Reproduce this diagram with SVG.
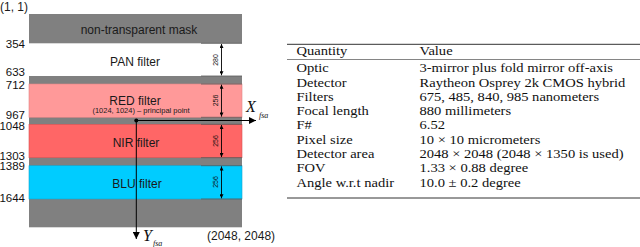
<svg xmlns="http://www.w3.org/2000/svg" width="640" height="247" viewBox="0 0 640 247">
<style>
.lbl{font-family:"Liberation Sans",Arial,sans-serif;font-size:12px;fill:#1a1a1a}
.band{font-family:"Liberation Sans",Arial,sans-serif;font-size:12px;fill:#1a1a1a;text-anchor:middle}
.num{font-family:"Liberation Sans",Arial,sans-serif;font-size:11.5px;fill:#111;text-anchor:end}
.dim{font-family:"Liberation Sans",Arial,sans-serif;font-size:7px;fill:#111;text-anchor:middle}
.ext{stroke:#5a5a5a;stroke-width:0.8}
.tab{font-family:"Liberation Serif","Times New Roman",serif;font-size:12.5px;fill:#111}
.ax{font-family:"Liberation Serif","Times New Roman",serif;font-style:italic;fill:#111}
.rule{stroke:#333}
</style>
<defs>
<marker id="ah" viewBox="0 0 10 10" refX="10" refY="5" markerWidth="9" markerHeight="7" markerUnits="userSpaceOnUse" orient="auto-start-reverse">
<path d="M0,0 L10,5 L0,10 z" fill="#000"/>
</marker>
<marker id="dh" viewBox="0 0 10 10" refX="10" refY="5" markerWidth="5" markerHeight="4" markerUnits="userSpaceOnUse" orient="auto-start-reverse">
<path d="M0,0 L10,5 L0,10 z" fill="#000"/>
</marker>
</defs>

<g id="mask">
<rect x="29" y="14" width="213" height="213.3" fill="#808080"/>
<text class="band" x="139" y="33.5" fill="#222">non-transparent mask</text>
</g>
<g id="pan">
<rect x="29" y="43.3" width="213" height="32.7" fill="#ffffff"/>
<text class="band" x="135" y="65.5">PAN filter</text>
</g>
<g id="red">
<rect x="29" y="84" width="213" height="33.3" fill="#ff9999" stroke="#e08585" stroke-width="0.6"/>
<text class="band" x="135" y="104.5">RED filter</text>
<text class="band" x="141" y="113" style="font-size:7.5px">(1024, 1024) – principal point</text>
</g>
<g id="nir">
<rect x="29" y="124.3" width="213" height="33.4" fill="#ff6666" stroke="#d85555" stroke-width="0.6"/>
<text class="band" x="136" y="146.5">NIR filter</text>
</g>
<g id="blu">
<rect x="29" y="165.7" width="213" height="33.3" fill="#00ccff" stroke="#12a6cf" stroke-width="0.6"/>
<text class="band" x="137" y="187.5">BLU filter</text>
</g>

<g id="ext-lines">
<line class="ext" x1="201" y1="43.3" x2="242" y2="43.3"/>
<line class="ext" x1="201" y1="76" x2="242" y2="76"/>
<line class="ext" x1="201" y1="84" x2="242" y2="84"/>
<line class="ext" x1="201" y1="117.3" x2="242" y2="117.3"/>
<line class="ext" x1="201" y1="124.3" x2="242" y2="124.3"/>
<line class="ext" x1="201" y1="157.7" x2="242" y2="157.7"/>
<line class="ext" x1="201" y1="165.7" x2="242" y2="165.7"/>
<line class="ext" x1="201" y1="199" x2="242" y2="199"/>
</g>

<g id="row-labels">
<text class="lbl" x="0" y="11">(1, 1)</text>
<text class="num" x="25" y="47.5">354</text>
<text class="num" x="25" y="76">633</text>
<text class="num" x="25" y="89">712</text>
<text class="num" x="25" y="119">967</text>
<text class="num" x="25" y="129.5">1048</text>
<text class="num" x="25" y="159.5">1303</text>
<text class="num" x="25" y="170">1389</text>
<text class="num" x="25" y="201.5">1644</text>
<text class="lbl" x="207" y="240">(2048, 2048)</text>
</g>

<g id="connectors" fill="none" stroke="#000">
<line x1="221.5" y1="44" x2="221.5" y2="75.3" stroke-width="0.9" marker-start="url(#dh)" marker-end="url(#dh)"/>
<line x1="221.5" y1="84.7" x2="221.5" y2="116.6" stroke-width="0.9" marker-start="url(#dh)" marker-end="url(#dh)"/>
<line x1="221.5" y1="125" x2="221.5" y2="157" stroke-width="0.9" marker-start="url(#dh)" marker-end="url(#dh)"/>
<line x1="221.5" y1="166.4" x2="221.5" y2="198.3" stroke-width="0.9" marker-start="url(#dh)" marker-end="url(#dh)"/>
<line x1="136.3" y1="120.5" x2="256" y2="120.5" stroke-width="1" marker-end="url(#ah)"/>
<line x1="136.3" y1="120.5" x2="136.3" y2="239" stroke-width="1" marker-end="url(#ah)"/>
<circle cx="136.3" cy="120.5" r="2" fill="#000" stroke="none"/>
</g>

<g id="dim-labels">
<text class="dim" transform="translate(217.5,60) rotate(-90)">280</text>
<text class="dim" transform="translate(217.5,100.5) rotate(-90)">256</text>
<text class="dim" transform="translate(217.5,141) rotate(-90)">256</text>
<text class="dim" transform="translate(217.5,182) rotate(-90)">256</text>
</g>

<g id="axis-labels">
<text class="ax" x="246" y="112" style="font-size:16px">X</text>
<text class="ax" x="259" y="117.5" style="font-size:8px">fsa</text>
<text class="ax" x="143" y="241" style="font-size:16px">Y</text>
<text class="ax" x="153" y="246" style="font-size:8px">fsa</text>
</g>

<g id="table">
<line class="rule" x1="287" y1="44.3" x2="640" y2="44.3" stroke-width="1"/>
<line class="rule" x1="287" y1="59.5" x2="640" y2="59.5" stroke-width="0.6"/>
<line class="rule" x1="287" y1="198" x2="640" y2="198" stroke-width="1"/>
<g class="tab" transform="translate(296.5,0) scale(1.164,1)">
<text x="0" y="55.5">Quantity</text>
<text x="105.67" y="55.5">Value</text>
<text x="0" y="72.3">Optic</text>
<text x="105.67" y="72.3">3-mirror plus fold mirror off-axis</text>
<text x="0" y="86.6">Detector</text>
<text x="105.67" y="86.6">Raytheon Osprey 2k CMOS hybrid</text>
<text x="0" y="100.9">Filters</text>
<text x="105.67" y="100.9">675, 485, 840, 985 nanometers</text>
<text x="0" y="115.2">Focal length</text>
<text x="105.67" y="115.2">880 millimeters</text>
<text x="0" y="129.5">F#</text>
<text x="105.67" y="129.5">6.52</text>
<text x="0" y="143.8">Pixel size</text>
<text x="105.67" y="143.8">10 × 10 micrometers</text>
<text x="0" y="158.1">Detector area</text>
<text x="105.67" y="158.1">2048 × 2048 (2048 × 1350 is used)</text>
<text x="0" y="172.4">FOV</text>
<text x="105.67" y="172.4">1.33 × 0.88 degree</text>
<text x="0" y="186.7">Angle w.r.t nadir</text>
<text x="105.67" y="186.7">10.0 ± 0.2 degree</text>
</g>
</g>
</svg>
